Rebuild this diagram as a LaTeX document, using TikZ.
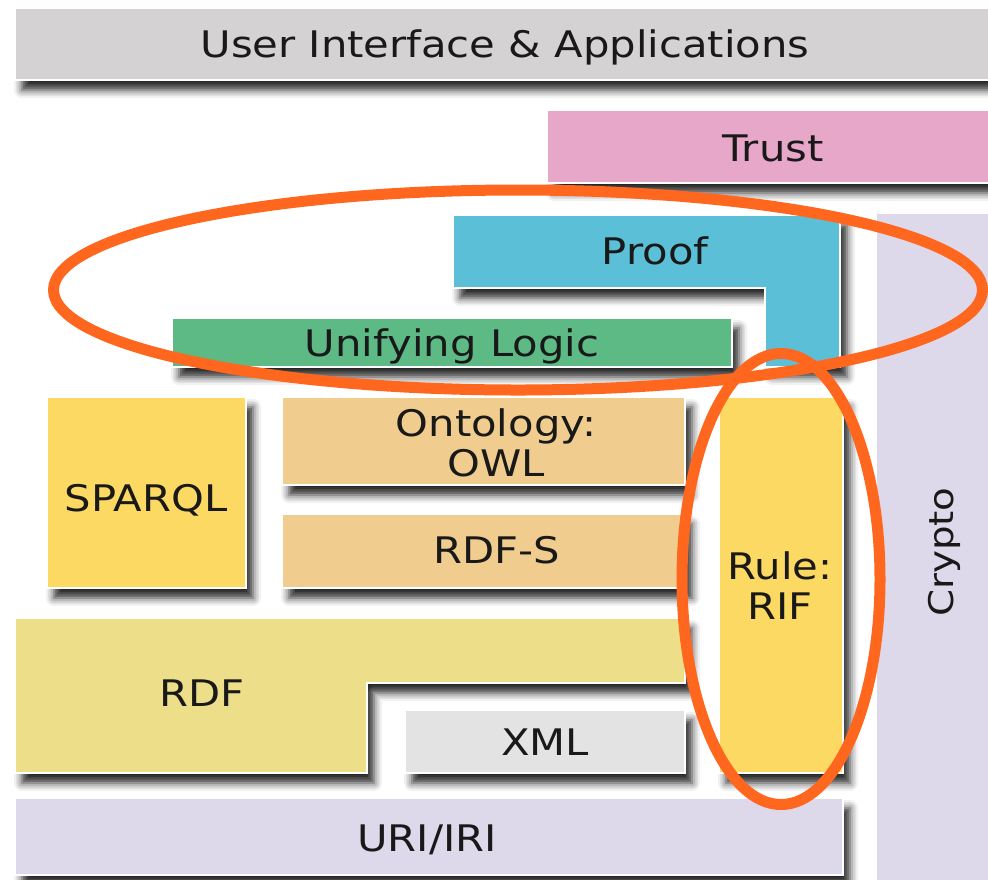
\documentclass[tikz,border=0pt]{standalone}
\usepackage{fontspec}
\setmainfont{DejaVu Sans}[FakeStretch=1.14]
\usepackage{xcolor}
\usepackage{tikz}
\usetikzlibrary{shadows.blur}

\definecolor{uicol}{HTML}{D5D2D4}
\definecolor{trustcol}{HTML}{E6A7C8}
\definecolor{proofcol}{HTML}{5BBFD8}
\definecolor{cryptocol}{HTML}{DDD8EA}
\definecolor{logiccol}{HTML}{5DBA85}
\definecolor{sparqlcol}{HTML}{FCD962}
\definecolor{owlcol}{HTML}{F0CD8F}
\definecolor{rdfcol}{HTML}{EDDF8A}
\definecolor{xmlcol}{HTML}{E3E3E3}
\definecolor{hicol}{HTML}{FF671F}

\begin{document}
\begin{tikzpicture}[x=0.5pt, y=-0.5pt,
        layer/.style={draw=white, line width=1pt,
            blur shadow={shadow xshift=3.5pt, shadow yshift=-5pt,
                shadow blur radius=4pt, shadow opacity=85}},
        lbl/.style={inner sep=0pt, text height=13.3pt, text depth=0pt,
            font=\fontsize{18.3}{20}\selectfont, text=black!90, align=center},
        twoline/.style={lbl, text height=33.3pt},
        hilite/.style={draw=hicol, line width=5.5pt}]
            \useasboundingbox (0,0) rectangle (988,879);

            % layers, top to bottom
            \path[layer, fill=uicol] (15,8) rectangle (995,80);
            \path[layer, fill=trustcol] (547,110) rectangle (999,183);
            \path[layer, fill=cryptocol] (876,213) rectangle (1000,890);
            \path[layer, fill=proofcol] (453,215) -- (840,215) -- (840,367)
                -- (765,367) -- (765,288) -- (453,288) -- cycle;
            \path[layer, fill=logiccol] (172,318) rectangle (732,367);
            \path[layer, fill=sparqlcol] (47,397) rectangle (246,588);
            \path[layer, fill=owlcol] (282,397) rectangle (685,485);
            \path[layer, fill=owlcol] (282,514) rectangle (685,588);
            \path[layer, fill=sparqlcol] (719,397) rectangle (843,773);
            \path[layer, fill=rdfcol] (15,618) -- (685,618) -- (685,683)
                -- (367,683) -- (367,773) -- (15,773) -- cycle;
            \path[layer, fill=xmlcol] (405,710) rectangle (685,773);
            \path[layer, fill=cryptocol] (15,798) rectangle (843,875);

            \node[lbl] (ui) at (505,44) {User Interface \& Applications};
            \node[lbl] (trust) at (773,148) {Trust};
            \node[lbl] (proof) at (655,251) {Proof};
            \node[lbl] (ulogic) at (452,343) {Unifying Logic};
            \node[lbl] (sparql) at (146,498) {SPARQL};
            \node[twoline] (owl) at (496,443) {Ontology:\\OWL};
            \node[lbl] (rdfs) at (497,550) {RDF-S};
            \node[twoline] (rif) at (780,586) {Rule:\\RIF};
            \node[lbl, rotate=90, font=\fontsize{17}{20}\selectfont] (crypto) at (940,552) {Crypto};
            \node[lbl] (rdf) at (202,693) {RDF};
            \node[lbl] (xml) at (545,742) {XML};
            \node[lbl] (uri) at (427,838) {URI/IRI};

            % highlights
            \draw[hilite] (518,290) ellipse [x radius=464.5, y radius=100];
            \draw[hilite] (781,579) ellipse [x radius=99, y radius=225.5];
        \end{tikzpicture}
\end{document}
